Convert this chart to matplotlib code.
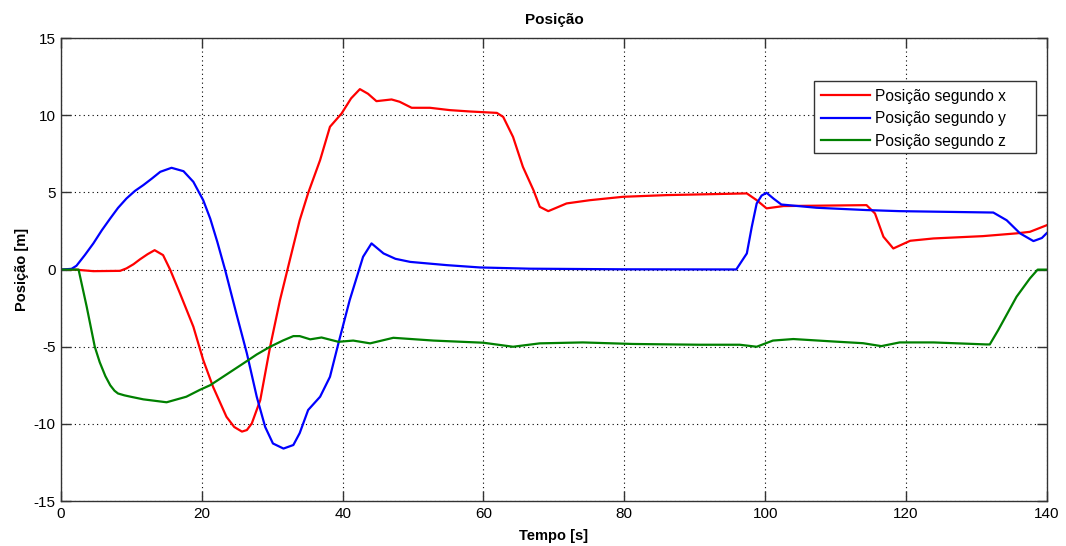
import matplotlib
matplotlib.use('Agg')
import matplotlib.pyplot as plt
from matplotlib.patches import Rectangle

plt.rcParams['font.family'] = ['Liberation Sans', 'DejaVu Sans']
plt.rcParams['axes.unicode_minus'] = False

# Posição segundo x
tx = [0, 2, 4.6, 8.4, 9.3, 10.3, 11.2, 12.3, 13.3, 14.5, 15.5, 16.9, 18.8, 20.2, 21.6, 23.5,
      24.6, 25.7, 26.4, 27.1, 28.3, 29.7, 31.1, 32.5, 33.9, 35.1, 36.8, 38.2, 39.85, 41.2,
      42.45, 43.6, 44.8, 46.95, 48.1, 49.8, 52.4, 55.2, 58.1, 61.9, 62.8, 64.2, 65.6, 67.1,
      68.0, 69.2, 70.3, 71.8, 75.1, 79.8, 86, 97.4, 98.8, 100.2, 102.6, 114.4, 115.6, 116.8,
      118.2, 119.3, 120.6, 123.9, 130.9, 135.7, 137.6, 140]
px = [0, 0, -0.1, -0.08, 0.08, 0.35, 0.66, 1.0, 1.26, 0.94, 0, -1.54, -3.7, -5.86, -7.6,
      -9.54, -10.2, -10.5, -10.4, -9.97, -8.46, -5.0, -1.98, 0.62, 3.2, 4.96, 7.1, 9.26,
      10.12, 11.1, 11.7, 11.4, 10.92, 11.03, 10.88, 10.49, 10.49, 10.34, 10.25, 10.16, 9.9,
      8.6, 6.66, 5.15, 4.07, 3.79, 4.0, 4.29, 4.5, 4.72, 4.83, 4.94, 4.5, 3.97, 4.12, 4.18,
      3.64, 2.13, 1.37, 1.6, 1.87, 2.02, 2.17, 2.35, 2.45, 2.88]

# Posição segundo y
ty = [0, 1.5, 2.2, 3.4, 4.6, 5.8, 7, 8.1, 9.3, 10.5, 11.7, 12.9, 14.1, 15.7, 17.4, 18.8,
      20.2, 21.2, 22.2, 23.3, 24.9, 26.4, 27.8, 29, 30.1, 31.6, 33, 33.9, 35.1, 36.8, 38.2,
      39.4, 41, 42.9, 44.1, 45.8, 47.5, 49.6, 54.8, 59.5, 66.6, 80, 95.9, 97.4, 98.1, 98.8,
      99.5, 100.2, 101.2, 102.3, 107.3, 114.4, 119.1, 125, 132.4, 134.3, 136.2, 138.1,
      139.3, 140]
py = [0, 0.05, 0.25, 0.95, 1.7, 2.55, 3.32, 4.0, 4.61, 5.1, 5.48, 5.9, 6.34, 6.6, 6.38,
      5.69, 4.5, 3.3, 1.8, 0, -2.84, -5.43, -8.24, -10.2, -11.27, -11.6, -11.37, -10.6, -9.1,
      -8.24, -6.95, -4.78, -1.98, 0.83, 1.7, 1.05, 0.7, 0.5, 0.29, 0.14, 0.06, 0.02, 0.01,
      1.05, 2.77, 4.29, 4.8, 4.98, 4.6, 4.22, 4.01, 3.86, 3.79, 3.75, 3.7, 3.2, 2.35, 1.85,
      2.05, 2.37]

# Posição segundo z
tz = [0, 2.5, 3.65, 4.8, 5.5, 6.3, 7, 7.6, 8.1, 9, 10, 11.7, 15, 17.8, 19.7, 21.2, 23.5,
      25.9, 27.8, 29.7, 31.5, 33, 33.9, 35.4, 37, 39.4, 41.5, 43.9, 47.2, 52.9, 60, 64.2, 68,
      74.1, 81.2, 90.7, 96.4, 98.8, 101.1, 104, 109.7, 113.9, 116.5, 119.1, 123.9, 131.4,
      131.9, 133.1, 135.7, 137.6, 138.7, 140]
pz = [0, 0, -2.4, -5.0, -6.0, -6.9, -7.5, -7.85, -8.03, -8.15, -8.25, -8.41, -8.6, -8.24,
      -7.8, -7.49, -6.8, -6.08, -5.5, -5.0, -4.6, -4.31, -4.31, -4.52, -4.4, -4.68, -4.6,
      -4.78, -4.42, -4.6, -4.74, -5.0, -4.78, -4.72, -4.82, -4.87, -4.87, -5.0, -4.6, -4.5,
      -4.66, -4.77, -4.96, -4.72, -4.72, -4.85, -4.85, -3.92, -1.76, -0.57, 0, 0]

xticks = [0, 20, 40, 60, 80, 100, 120, 140]
yticks = [-15, -10, -5, 0, 5, 10, 15]

fig = plt.figure(figsize=(10.66, 5.46), dpi=100)
ax = fig.add_axes([0.0572, 0.0824, 0.9248, 0.8476])

ax.plot(tx, px, color='#ff0000', lw=1.6, label='Posição segundo x')
ax.plot(ty, py, color='#0000ff', lw=1.6, label='Posição segundo y')
ax.plot(tz, pz, color='#008000', lw=1.6, label='Posição segundo z')

ax.set_xlim(0, 140)
ax.set_ylim(-15, 15)
ax.set_xticks(xticks)
ax.set_yticks(yticks)
ax.grid(True, color='black', linestyle=(0, (1, 3)), linewidth=0.8)
ax.tick_params(direction='in', length=7, width=1, top=True, right=True,
               labelsize=11, pad=4, color='#333333')
for s in ax.spines.values():
    s.set_color('#333333')
    s.set_linewidth(1)

ax.set_title('Posição', fontsize=11, fontweight='bold', pad=10)
ax.set_xlabel('Tempo [s]', fontsize=10.5, fontweight='bold', labelpad=6)
ax.set_ylabel('Posição [m]', fontsize=10.5, fontweight='bold', labelpad=3)

# MATLAB-style legend box (wider on the right than matplotlib's own frame)
box_l, box_b, box_w, box_h = 0.7637, 0.7516, 0.2251, 0.1555
ax.add_patch(Rectangle((box_l, box_b), box_w, box_h, transform=ax.transAxes,
                       facecolor='white', edgecolor='#333333', lw=1, zorder=4.5))
leg = ax.legend(loc='upper left', bbox_to_anchor=(box_l, box_b + box_h), fontsize=11.2,
                frameon=False, handlelength=3.15, handletextpad=0.32, borderpad=0.48,
                labelspacing=0.48, borderaxespad=0)

fig.savefig('out.png', dpi=100)
